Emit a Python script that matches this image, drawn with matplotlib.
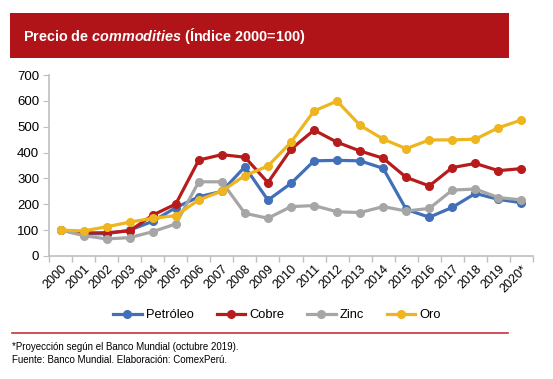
import matplotlib
matplotlib.use("Agg")
import matplotlib.pyplot as plt
from matplotlib.patches import Rectangle
from matplotlib.lines import Line2D
import numpy as np

plt.rcParams['font.family'] = ['Liberation Sans', 'DejaVu Sans']
plt.rcParams['mathtext.fontset'] = 'custom'
plt.rcParams['mathtext.rm'] = 'Liberation Sans:bold'
plt.rcParams['mathtext.it'] = 'Liberation Sans:italic:bold'

# datos (indice 2000=100)
years = ["2000", "2001", "2002", "2003", "2004", "2005", "2006", "2007", "2008", "2009",
         "2010", "2011", "2012", "2013", "2014", "2015", "2016", "2017", "2018", "2019", "2020*"]
petroleo = [100, 86, 86, 100, 134, 187, 229, 250, 345, 216, 281, 368, 370, 368, 339, 180, 150, 188, 242, 219, 206]
cobre = [100, 89, 90, 97, 158, 201, 371, 392, 382, 284, 413, 487, 440, 406, 378, 304, 271, 342, 358, 330, 338]
zinc = [100, 79, 66, 71, 94, 124, 287, 287, 165, 146, 191, 195, 171, 168, 191, 174, 184, 255, 259, 226, 217]
oro = [100, 97, 113, 131, 146, 156, 217, 251, 311, 348, 440, 561, 599, 505, 452, 415, 449, 449, 452, 496, 526]

series = [("Petróleo", petroleo, "#4170B8"),
          ("Cobre", cobre, "#B71C1C"),
          ("Zinc", zinc, "#A6A6A6"),
          ("Oro", oro, "#EEB51F")]

fig = plt.figure(figsize=(5.53, 3.79), dpi=100)

# banner del titulo
fig.patches.append(Rectangle((10 / 553, 1 - 58 / 379), 499 / 553, 45 / 379,
                             transform=fig.transFigure, facecolor="#B01418",
                             edgecolor="none", zorder=0))
fig.text(23 / 553, 1 - 36 / 379, "Precio de $\\it{commodities}$ (Índice 2000=100)",
         color="white", fontsize=10.4, va="center", ha="left", weight="bold")

ax = fig.add_axes([49 / 553, 1 - 256 / 379, 484 / 553, 181 / 379])
x = np.arange(len(years))
for name, vals, col in series:
    ax.plot(x, vals, color=col, lw=2.3, marker="o", ms=5.5, label=name, zorder=3)

ax.set_xlim(-0.5, len(years) - 0.5)
ax.set_ylim(0, 700)
ax.set_yticks(range(0, 701, 100))
ax.set_xticks(x)
ax.set_xticklabels(years, rotation=45, ha="right", rotation_mode="anchor", fontsize=9)
ax.set_xticks(np.arange(-0.5, len(years), 1), minor=True)
ax.tick_params(axis="x", which="major", length=0, pad=5)
ax.tick_params(axis="x", which="minor", length=4, color="#BFBFBF", width=1)
ax.tick_params(axis="y", length=4, color="#BFBFBF", labelsize=9.5, pad=3)
for s in ["top", "right"]:
    ax.spines[s].set_visible(False)
ax.spines["left"].set_color("#BFBFBF")
ax.spines["bottom"].set_color("#BFBFBF")
ax.spines["left"].set_linewidth(1.2)
ax.spines["bottom"].set_linewidth(1.2)

ax.legend(loc="center", bbox_to_anchor=(277 / 553, 1 - 315 / 379),
          bbox_transform=fig.transFigure, ncol=4, frameon=False, fontsize=9.3,
          handlelength=2.2, columnspacing=1.8, handletextpad=0.3)

# linea separadora y notas
fig.add_artist(Line2D([12 / 553, 508 / 553], [1 - 333 / 379, 1 - 333 / 379],
                      color="#C8323C", lw=1.2))
fig.text(12 / 553, 1 - 347 / 379, "*Proyección según el Banco Mundial (octubre 2019).",
         fontsize=7, va="center", ha="left")
fig.text(12 / 553, 1 - 360 / 379, "Fuente: Banco Mundial. Elaboración: ComexPerú.",
         fontsize=7, va="center", ha="left")

fig.savefig("out.png", dpi=100)
